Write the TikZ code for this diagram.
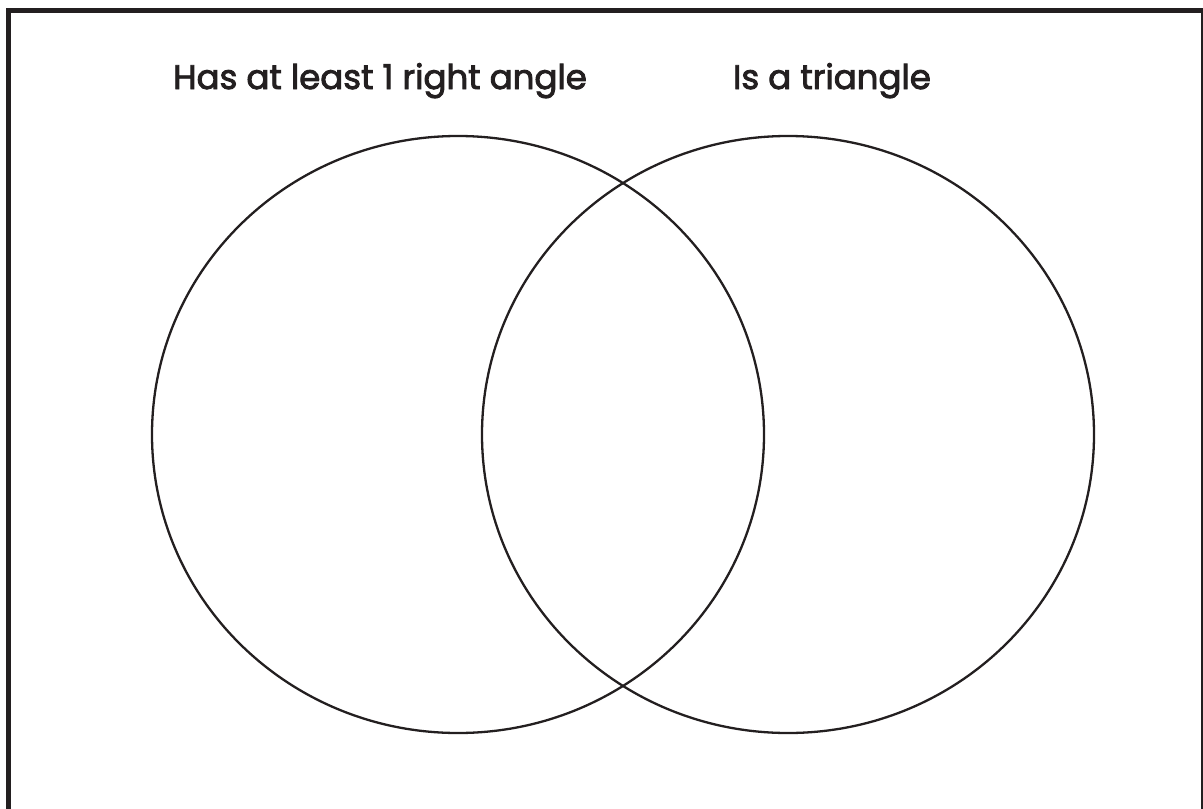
\documentclass[tikz,border=0pt]{standalone}
\usepackage{fontspec}
\setmainfont{Poppins}
\newfontfamily\settitlefont{Poppins}[FakeBold=2.6]
\usepackage{tikz}
\definecolor{inkblack}{RGB}{35,31,32}

\begin{document}
\begin{tikzpicture}[
  x=1pt,y=-1pt,
  setline/.style={draw=inkblack,line width=2.3pt},
  frame/.style={draw=inkblack,line width=5pt},
  settitle/.style={anchor=base,text=inkblack,inner sep=0pt,
                   font=\settitlefont\fontsize{34}{40}\selectfont}
]
\useasboundingbox (0,0) rectangle (1203,809);
% outer frame, open at the bottom edge of the page
\draw[frame] (8,815) -- (8,10.5) -- (1203.5,10.5) -- (1203.5,815);
% the two sets
\coordinate (leftset) at (458,434.5);
\coordinate (rightset) at (788,434.5);
\draw[setline] (leftset) ellipse [x radius=306,y radius=298.5];
\draw[setline] (rightset) ellipse [x radius=306,y radius=298.5];
% set labels
\node[settitle] (lefttitle) at (380,89) {Has at least 1 right angle};
\node[settitle] (righttitle) at (832,89) {Is a triangle};
\end{tikzpicture}
\end{document}
